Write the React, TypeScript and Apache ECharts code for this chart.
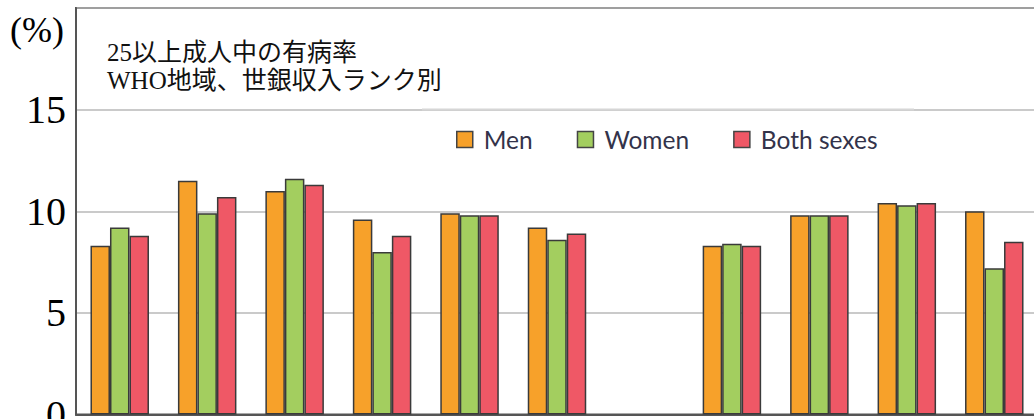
import React, { useEffect, useRef } from "react";
import * as echarts from "echarts";

const categories = ["AFR", "AMR", "EMR", "EUR", "SEAR", "WPR", "", "Low", "Lower-middle", "Upper-middle", "High"];
const men = [8.3, 11.5, 11.0, 9.6, 9.9, 9.2, null, 8.3, 9.8, 10.4, 10.0];
const women = [9.2, 9.9, 11.6, 8.0, 9.8, 8.6, null, 8.4, 9.8, 10.3, 7.2];
const both = [8.8, 10.7, 11.3, 8.8, 9.8, 8.9, null, 8.3, 9.8, 10.4, 8.5];
const seriesNames = ["Men", "Women", "Both sexes"];
const colors = ["#F7A12A", "#A3CE5F", "#EF5866"];
const titleLines = ["25以上成人中の有病率", "WHO地域、世銀収入ランク別"];
const unitLabel = "(%)";

export default function App() {
  const ref = useRef<HTMLDivElement>(null);
  useEffect(() => {
    if (!ref.current) return;
    const chart = echarts.init(ref.current, null, { renderer: "svg" });
    const data = [men, women, both];
    chart.setOption({
      animation: false,
      grid: {
        left: 76,
        right: -4,
        top: 8,
        bottom: 4.5,
        containLabel: false,
        outerBoundsMode: "none",
        show: true,
        borderColor: "#555",
        borderWidth: 2,
        backgroundColor: "#fff",
      },
      xAxis: {
        type: "category",
        data: categories,
        axisLine: { show: true, lineStyle: { color: "#555", width: 2 } },
        axisTick: { show: false },
        axisLabel: { show: false },
        splitLine: { show: false },
      },
      yAxis: {
        type: "value",
        min: 0,
        max: 20,
        interval: 5,
        axisLine: { show: true, lineStyle: { color: "#555", width: 2 } },
        axisTick: { show: false },
        axisLabel: {
          margin: 10,
          fontFamily: "'Liberation Serif', serif",
          fontSize: 40,
          color: "#000",
          formatter: (v: number) => (v === 20 ? "" : String(v)),
        },
        splitLine: { lineStyle: { color: "#b8b8b8", width: 1.5 } },
      },
      legend: {
        left: 451,
        top: 122,
        itemWidth: 16,
        itemHeight: 16,
        itemGap: 44,
        icon: "rect",
        itemStyle: { borderColor: "#444", borderWidth: 1.5 },
        textStyle: {
          fontFamily: "Lato, sans-serif",
          fontSize: 24.5,
          color: "#33334a",
          padding: [0, 0, 0, 6],
        },
        data: seriesNames,
      },
      series: seriesNames.map((name, i) => ({
        name,
        type: "bar",
        data: data[i],
        barWidth: 19.5,
        barGap: "0%",
        itemStyle: { color: colors[i], borderColor: "#3a3a3a", borderWidth: 1.5 },
      })),
      graphic: [
        {
          type: "line",
          shape: { x1: 422, y1: 109.5, x2: 914, y2: 109.5 },
          style: { stroke: "#d6d6d6", lineWidth: 2 },
          z: 10,
        },
        {
          type: "text",
          left: 10,
          top: 12,
          style: {
            text: unitLabel,
            fontFamily: "'Liberation Serif', serif",
            fontSize: 36,
            fill: "#000",
          },
        },
        {
          type: "text",
          left: 107,
          top: 40,
          style: {
            text: titleLines[0],
            fontFamily: "'Liberation Serif', 'Noto Sans CJK JP'",
            fontSize: 25,
            fill: "#111",
          },
          z: 20,
        },
        {
          type: "text",
          left: 107,
          top: 68,
          style: {
            text: titleLines[1],
            fontFamily: "'Liberation Serif', 'Noto Sans CJK JP'",
            fontSize: 25,
            fill: "#111",
          },
          z: 20,
        },
      ],
    });
    return () => chart.dispose();
  }, []);
  return (
    <div
      ref={ref}
      style={{ position: "fixed", left: 0, top: 0, width: 1034, height: 419, background: "#fff" }}
    />
  );
}
